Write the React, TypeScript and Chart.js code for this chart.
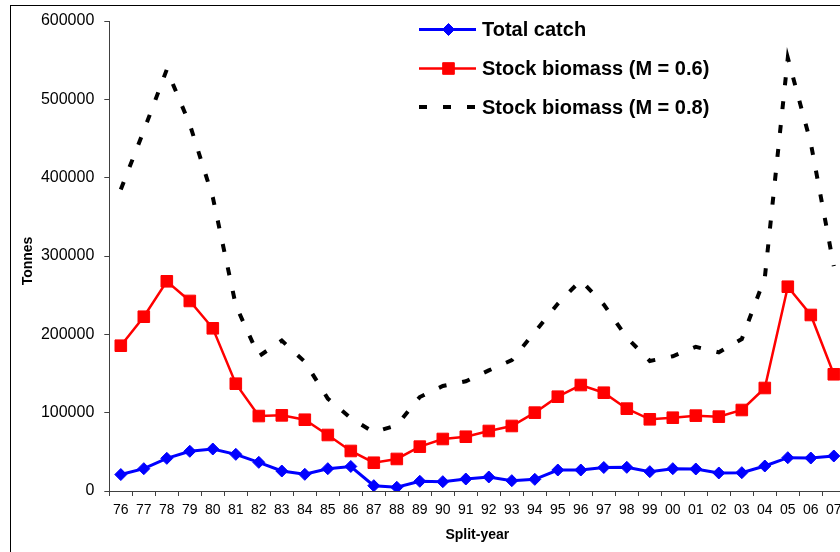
import React, { useEffect, useRef } from "react";
import { Chart, registerables } from "chart.js";

Chart.register(...registerables);

// Split-years 1976/77 .. 2007/08
const years = [
  "76", "77", "78", "79", "80", "81", "82", "83", "84", "85", "86", "87", "88", "89", "90", "91",
  "92", "93", "94", "95", "96", "97", "98", "99", "00", "01", "02", "03", "04", "05", "06", "07",
];

// Tonnes
const totalCatch = [
  21000, 28500, 41700, 50700, 53600, 46800, 36600, 25500, 21300, 28500, 31300, 6800, 4700, 12400, 11900, 15300,
  17900, 13200, 14900, 26800, 26800, 30000, 30200, 24700, 28500, 28100, 23000, 23400, 31900, 42500, 42100, 44700,
];

const biomassM06 = [
  185500, 222500, 267700, 242600, 207700, 137000, 95700, 96600, 91000, 71500, 51100, 36100, 40900, 56600, 66400, 69300,
  76600, 83000, 100000, 120400, 135300, 125500, 105100, 91500, 93600, 96200, 94900, 103400, 131500, 260800, 224700, 149000,
];

const biomassM08 = [
  385000, 460000, 538000, 468000, 375000, 237000, 172000, 192000, 165000, 118000, 93000, 75000, 84000, 120000, 134000, 140000,
  154000, 167000, 203000, 239000, 269000, 238000, 196000, 166000, 172000, 184000, 177000, 194000, 272000, 553000, 444000, 287000,
];

const seriesNames = ["Total catch", "Stock biomass (M = 0.6)", "Stock biomass (M = 0.8)"];

const yMax = 600000;
const yStep = 100000;

const FONT = "'Liberation Sans', Arial, Helvetica, sans-serif";
const CANVAS_W = 880;
const CANVAS_H = 600;

// Outer frame, axis titles and the in-plot legend
const decorPlugin = {
  id: "decor",
  beforeDraw(chart: any) {
    const ctx = chart.ctx;
    ctx.save();
    ctx.fillStyle = "#ffffff";
    ctx.fillRect(0, 0, chart.width, chart.height);
    ctx.strokeStyle = "#000000";
    ctx.lineWidth = 1;
    ctx.strokeRect(10.5, 5.5, chart.width, chart.height);
    ctx.restore();
  },
  afterDraw(chart: any) {
    const ctx = chart.ctx;
    const area = chart.chartArea;
    ctx.save();
    ctx.fillStyle = "#000000";
    ctx.font = `bold 14px ${FONT}`;
    ctx.textAlign = "center";
    ctx.textBaseline = "middle";
    // y title
    ctx.save();
    ctx.translate(28, (area.top + area.bottom) / 2 + 5);
    ctx.rotate(-Math.PI / 2);
    ctx.fillText("Tonnes", 0, 0);
    ctx.restore();
    // x title
    ctx.fillText("Split-year", (area.left + area.right) / 2, 535);

    // legend
    const x0 = 419;
    const x1 = 476;
    const textX = 482;
    const rows = [29.5, 68.5, 107];
    chart.data.datasets.forEach((ds: any, i: number) => {
      const y = rows[i];
      ctx.save();
      ctx.strokeStyle = ds.borderColor;
      ctx.lineWidth = ds.borderWidth;
      ctx.lineCap = "butt";
      ctx.setLineDash(ds.borderDash || []);
      ctx.beginPath();
      ctx.moveTo(x0, y);
      ctx.lineTo(x1, y);
      ctx.stroke();
      ctx.setLineDash([]);
      const cx = (x0 + x1) / 2 + 1;
      ctx.fillStyle = ds.pointBackgroundColor;
      ctx.strokeStyle = ds.pointBorderColor;
      ctx.lineWidth = 1;
      if (ds.pointStyle === "rectRot" && ds.pointRadius > 0) {
        const r = ds.pointRadius;
        ctx.beginPath();
        ctx.moveTo(cx - r, y);
        ctx.lineTo(cx, y - r);
        ctx.lineTo(cx + r, y);
        ctx.lineTo(cx, y + r);
        ctx.closePath();
        ctx.fill();
        ctx.stroke();
      } else if (ds.pointStyle === "rect" && ds.pointRadius > 0) {
        const h = ds.pointRadius * Math.SQRT1_2;
        ctx.beginPath();
        ctx.rect(cx - h, y - h, 2 * h, 2 * h);
        ctx.fill();
        ctx.stroke();
      }
      ctx.fillStyle = "#000000";
      ctx.font = `bold 20px ${FONT}`;
      ctx.textAlign = "left";
      ctx.textBaseline = "middle";
      ctx.fillText(ds.label, textX, y + 1);
      ctx.restore();
    });
    ctx.restore();
  },
};

export default function App() {
  const canvasRef = useRef<HTMLCanvasElement | null>(null);

  useEffect(() => {
    const canvas = canvasRef.current;
    if (!canvas) return;
    const chart = new Chart(canvas, {
      type: "line",
      data: {
        labels: years,
        datasets: [
          {
            label: seriesNames[0],
            data: totalCatch,
            borderColor: "#0000ff",
            backgroundColor: "#0000ff",
            borderWidth: 3,
            pointStyle: "rectRot",
            pointRadius: 6,
            pointHoverRadius: 6,
            pointBackgroundColor: "#0000ff",
            pointBorderColor: "#0000ff",
            pointBorderWidth: 1,
            tension: 0,
          },
          {
            label: seriesNames[1],
            data: biomassM06,
            borderColor: "#ff0000",
            backgroundColor: "#ff0000",
            borderWidth: 2.5,
            pointStyle: "rect",
            pointRadius: 8.2,
            pointHoverRadius: 8.2,
            pointBackgroundColor: "#ff0000",
            pointBorderColor: "#ff0000",
            pointBorderWidth: 1,
            tension: 0,
          },
          {
            label: seriesNames[2],
            data: biomassM08,
            borderColor: "#000000",
            backgroundColor: "#000000",
            borderWidth: 4,
            borderDash: [8, 16],
            borderCapStyle: "butt",
            pointRadius: 0,
            pointHoverRadius: 0,
            pointBackgroundColor: "#000000",
            pointBorderColor: "#000000",
            tension: 0,
          },
        ],
      },
      options: {
        responsive: false,
        animation: false,
        devicePixelRatio: 1,
        layout: { padding: { left: 10, top: 21, right: CANVAS_W - 845.3, bottom: 0 } },
        plugins: {
          legend: { display: false },
          tooltip: { enabled: false },
          title: { display: false },
        },
        scales: {
          x: {
            type: "category",
            offset: true,
            grid: {
              offset: true,
              drawOnChartArea: false,
              drawTicks: true,
              tickLength: 5,
              color: "#404040",
            },
            border: { display: true, color: "#404040", width: 1 },
            ticks: {
              color: "#000000",
              font: { family: FONT, size: 14 },
              padding: 6,
              maxRotation: 0,
              minRotation: 0,
              autoSkip: false,
            },
            afterFit(scale: any) {
              scale.height = CANVAS_H - 491;
            },
          },
          y: {
            type: "linear",
            min: 0,
            max: yMax,
            grid: {
              drawOnChartArea: false,
              drawTicks: true,
              tickLength: 5,
              color: "#404040",
            },
            border: { display: true, color: "#404040", width: 1 },
            ticks: {
              stepSize: yStep,
              color: "#000000",
              font: { family: FONT, size: 16 },
              padding: 10,
              callback: (v: any) => String(v),
            },
            afterFit(scale: any) {
              scale.width = 99.3;
            },
          },
        },
      },
      plugins: [decorPlugin],
    });
    return () => chart.destroy();
  }, []);

  return (
    <div
      style={{
        position: "absolute",
        left: 0,
        top: 0,
        width: 840,
        height: 552,
        overflow: "hidden",
        background: "#ffffff",
      }}
    >
      <canvas
        ref={canvasRef}
        width={CANVAS_W}
        height={CANVAS_H}
        style={{ display: "block", width: CANVAS_W, height: CANVAS_H }}
      />
    </div>
  );
}
